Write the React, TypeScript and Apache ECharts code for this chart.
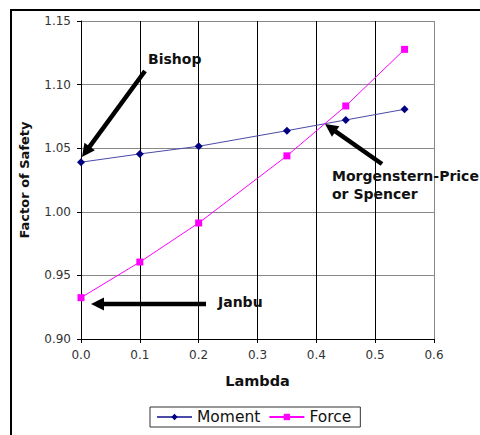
import React, { useEffect, useRef } from "react";
import * as echarts from "echarts";

const lambdaValues = [0, 0.1, 0.2, 0.35, 0.45, 0.55];
const momentValues = [1.039, 1.0455, 1.0515, 1.0638, 1.0722, 1.0806];
const forceValues = [0.9325, 0.9605, 0.9912, 1.044, 1.0832, 1.1277];
const seriesNames = ["Moment", "Force"];
const annotationTexts = ["Bishop", "Janbu", "Morgenstern-Price\nor Spencer"];

const FONT = "DejaVu Sans, Liberation Sans, Arial, sans-serif";

export default function App() {
  const ref = useRef<HTMLDivElement>(null);
  useEffect(() => {
    if (!ref.current) return;
    const chart = echarts.init(ref.current, undefined, { renderer: "svg" });
    const arrow = (x1: number, y1: number, x2: number, y2: number) => {
      const dx = x2 - x1;
      const dy = y2 - y1;
      const len = Math.sqrt(dx * dx + dy * dy);
      const ux = dx / len;
      const uy = dy / len;
      const hl = 13;
      const hw = 6.5;
      const bx = x2 - ux * hl;
      const by = y2 - uy * hl;
      return [
        {
          type: "line",
          shape: { x1, y1, x2: bx + ux * 2, y2: by + uy * 2 },
          style: { stroke: "#000", lineWidth: 4.5 },
          z: 100,
        },
        {
          type: "polygon",
          shape: {
            points: [
              [x2, y2],
              [bx - uy * hw, by + ux * hw],
              [bx + uy * hw, by - ux * hw],
            ],
          },
          style: { fill: "#000" },
          z: 100,
        },
      ];
    };
    chart.setOption({
      animation: false,
      backgroundColor: "#fff",
      grid: { left: 81, right: 46, top: 21, bottom: 96, containLabel: false },
      xAxis: {
        type: "value",
        min: 0,
        max: 0.6,
        interval: 0.1,
        name: "Lambda",
        nameLocation: "middle",
        nameGap: 34,
        nameTextStyle: { fontFamily: FONT, fontSize: 14.5, fontWeight: "bold", color: "#111" },
        axisLine: { show: true, onZero: false, lineStyle: { color: "#000", width: 1 } },
        axisTick: { show: true, length: 4, lineStyle: { color: "#000" } },
        axisLabel: {
          fontFamily: FONT,
          fontSize: 12,
          color: "#333",
          margin: 10,
          formatter: (v: number) => v.toFixed(1),
        },
        splitLine: {
          show: true,
          lineStyle: { color: ["#000", "#000", "#000", "#000", "#000", "#000", "#888"], width: 1 },
        },
      },
      yAxis: {
        type: "value",
        min: 0.9,
        max: 1.15,
        interval: 0.05,
        name: "Factor of Safety",
        nameLocation: "middle",
        nameGap: 50,
        nameTextStyle: { fontFamily: FONT, fontSize: 13, fontWeight: "bold", color: "#111" },
        axisLine: { show: true, lineStyle: { color: "#000", width: 1 } },
        axisTick: { show: true, length: 4, lineStyle: { color: "#000" } },
        axisLabel: {
          fontFamily: FONT,
          fontSize: 12,
          color: "#333",
          margin: 10,
          formatter: (v: number) => v.toFixed(2),
        },
        splitLine: { show: true, lineStyle: { color: "#888", width: 1 } },
      },
      legend: {
        left: 150,
        top: 407,
        orient: "horizontal",
        borderColor: "#333",
        borderWidth: 1,
        padding: [2, 9, 2, 6],
        itemWidth: 35,
        itemHeight: 8,
        itemGap: 8,
        textStyle: { fontFamily: FONT, fontSize: 15.5, color: "#111" },
        data: seriesNames,
      },
      series: [
        {
          name: seriesNames[0],
          type: "line",
          data: lambdaValues.map((x, i) => [x, momentValues[i]]),
          symbol: "diamond",
          symbolSize: 8,
          lineStyle: { color: "#4a4aa8", width: 1 },
          itemStyle: { color: "#000080" },
          z: 5,
        },
        {
          name: seriesNames[1],
          type: "line",
          data: lambdaValues.map((x, i) => [x, forceValues[i]]),
          symbol: "rect",
          symbolSize: 7,
          lineStyle: { color: "#ff00ff", width: 1 },
          itemStyle: { color: "#ff00ff" },
          z: 6,
        },
      ],
      graphic: [
        {
          type: "rect",
          shape: { x: 11, y: 10, width: 480, height: 440 },
          style: { fill: "none", stroke: "#000", lineWidth: 2 },
          silent: true,
        },
        ...arrow(145, 71, 82, 157),
        ...arrow(206, 304, 91, 304),
        ...arrow(382, 164, 325, 124),
        {
          type: "text",
          left: 148,
          top: 52,
          style: { text: annotationTexts[0], fontFamily: FONT, fontSize: 14, fontWeight: "bold", fill: "#111" },
          z: 100,
        },
        {
          type: "text",
          left: 218,
          top: 295,
          style: { text: annotationTexts[1], fontFamily: FONT, fontSize: 14, fontWeight: "bold", fill: "#111" },
          z: 100,
        },
        {
          type: "text",
          left: 332,
          top: 167,
          style: {
            text: annotationTexts[2],
            fontFamily: FONT,
            fontSize: 14,
            fontWeight: "bold",
            fill: "#111",
            lineHeight: 18,
          },
          z: 100,
        },
      ],
    });
    return () => chart.dispose();
  }, []);
  return (
    <div
      ref={ref}
      style={{ position: "fixed", left: 0, top: 0, width: 480, height: 435 }}
    />
  );
}
